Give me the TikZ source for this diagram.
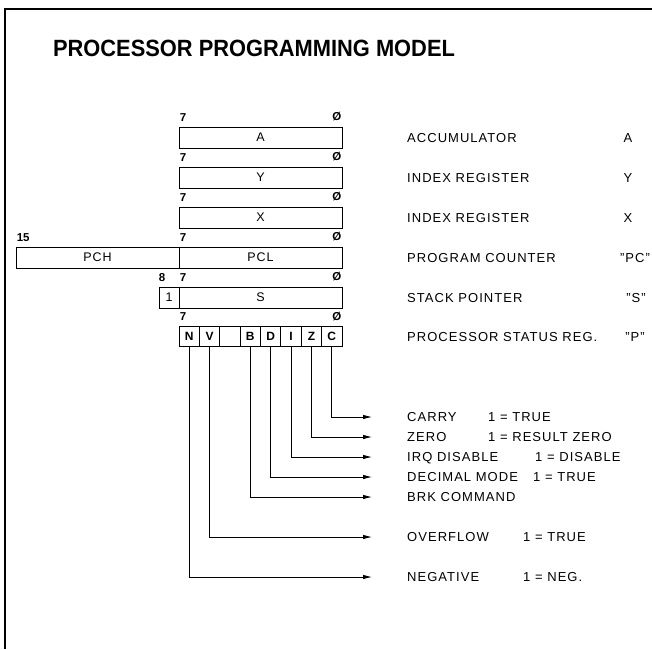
\documentclass[tikz,border=0pt]{standalone}
\usepackage{fontspec}
\setmainfont{Liberation Sans}
\newfontfamily\lblfont[LetterSpace=8]{Liberation Sans}
\usepackage{graphicx}
\usetikzlibrary{
	arrows.meta,
	positioning
}
\tikzset{
	regbox/.style={draw, line width=0.9pt, minimum height=21pt, inner sep=0pt, font=\lblfont\fontsize{12.5}{12.5}\selectfont},
	flagbox/.style={draw, line width=0.9pt, minimum width=20.375pt, minimum height=20pt, inner sep=0pt, font=\bfseries\fontsize{12}{12}\selectfont},
	bitno/.style={inner sep=0pt, font=\bfseries\fontsize{11.5}{11.5}\selectfont},
	desc/.style={anchor=west, inner sep=0pt, text height=9.3pt, text depth=0pt, font=\lblfont\fontsize{13}{13}\selectfont},
	regname/.style={inner sep=0pt, text height=9.3pt, text depth=0pt, font=\lblfont\fontsize{13}{13}\selectfont},
	flagline/.style={line width=0.8pt, -{Latex[length=9pt,width=4.5pt]}}
}

\begin{document}
\begin{tikzpicture}[x=1pt, y=-1pt]
		\useasboundingbox (0,0) rectangle (652,649);
		% 边框
		\draw[line width=2.2pt] (5,649) -- (5,9) -- (652,9);
		% 标题
		\node[inner sep=0pt] (title) at (254,48) {\scalebox{0.93}[1]{\bfseries\fontsize{23.5}{23.5}\selectfont PROCESSOR PROGRAMMING MODEL}};
		% 寄存器
		\node[regbox, minimum width=163pt] (rA) at (260.5,137.5) {A};
		\node[regbox, minimum width=163pt] (rY) at (260.5,177.5) {Y};
		\node[regbox, minimum width=163pt] (rX) at (260.5,217.5) {X};
		\node[regbox, minimum width=163pt] (rPCL) at (260.5,257.5) {PCL};
		\node[regbox, minimum width=163pt] (rPCH) at (97.5,257.5) {PCH};
		\node[regbox, minimum width=163pt] (rS) at (260.5,297.5) {S};
		\node[regbox, minimum width=20pt] (rS8) at (169,297.5) {1};
		% 状态寄存器
		\foreach \n/\t [count=\i from 0] in {N/N, V/V, U/{}, B/B, D/D, I/I, Z/Z, C/C}
			\node[flagbox] (f\n) at ({179+20.375*(\i+0.5)},336.5) {\t};
		% 位号
		\foreach \r in {rA, rY, rX, rPCL, rS, fN} {
			\node[bitno, anchor=south west] (hi-\r) at ([xshift=1pt, yshift=5pt]\r.north west) {7};
		}
		\foreach \r in {rA, rY, rX, rPCL, rS, fC} {
			\node[bitno, anchor=south east] (lo-\r) at ([xshift=-1pt, yshift=5pt]\r.north east) {Ø};
		}
		\node[bitno, anchor=south west] (hi-rPCH) at ([xshift=1pt, yshift=5pt]rPCH.north west) {15};
		\node[bitno, anchor=south west] (hi-rS8) at ([xshift=0pt, yshift=5pt]rS8.north west) {8};
		% 寄存器说明
		\node[desc] (nA) at (407,137.5) {ACCUMULATOR};
		\node[desc] (nY) at (407,177.5) {INDEX REGISTER};
		\node[desc] (nX) at (407,217.5) {INDEX REGISTER};
		\node[desc] (nPC) at (407,257.5) {PROGRAM COUNTER};
		\node[desc] (nS) at (407,297.5) {STACK POINTER};
		\node[desc] (nP) at (407,337) {PROCESSOR STATUS REG.};
		\node[regname] (sA) at (628,137.5) {A};
		\node[regname] (sY) at (628,177.5) {Y};
		\node[regname] (sX) at (628,217.5) {X};
		\node[regname] (sPC) at (635,257.5) {”PC”};
		\node[regname] (sS) at (636,297.5) {”S”};
		\node[regname] (sP) at (635,337) {”P”};
		% 标志位说明
		\node[desc] (dC) at (407,417) {CARRY};
		\node[desc] (vC) at (488,417) {1 = TRUE};
		\node[desc] (dZ) at (407,437) {ZERO};
		\node[desc] (vZ) at (488,437) {1 = RESULT ZERO};
		\node[desc] (dI) at (407,457) {IRQ DISABLE};
		\node[desc] (vI) at (535,457) {1 = DISABLE};
		\node[desc] (dD) at (407,477) {DECIMAL MODE};
		\node[desc] (vD) at (533,477) {1 = TRUE};
		\node[desc] (dB) at (407,497) {BRK COMMAND};
		\node[desc] (dV) at (407,537) {OVERFLOW};
		\node[desc] (vV) at (523,537) {1 = TRUE};
		\node[desc] (dN) at (407,577) {NEGATIVE};
		\node[desc] (vN) at (523,577) {1 = NEG.};
		% 箭头
		\foreach \n/\y in {C/417, Z/437, I/457, D/477, B/497, V/537, N/577} {
			\coordinate (a\n) at (372,\y);
			\draw[flagline] (f\n.south) |- (a\n);
		}
	\end{tikzpicture}
\end{document}
